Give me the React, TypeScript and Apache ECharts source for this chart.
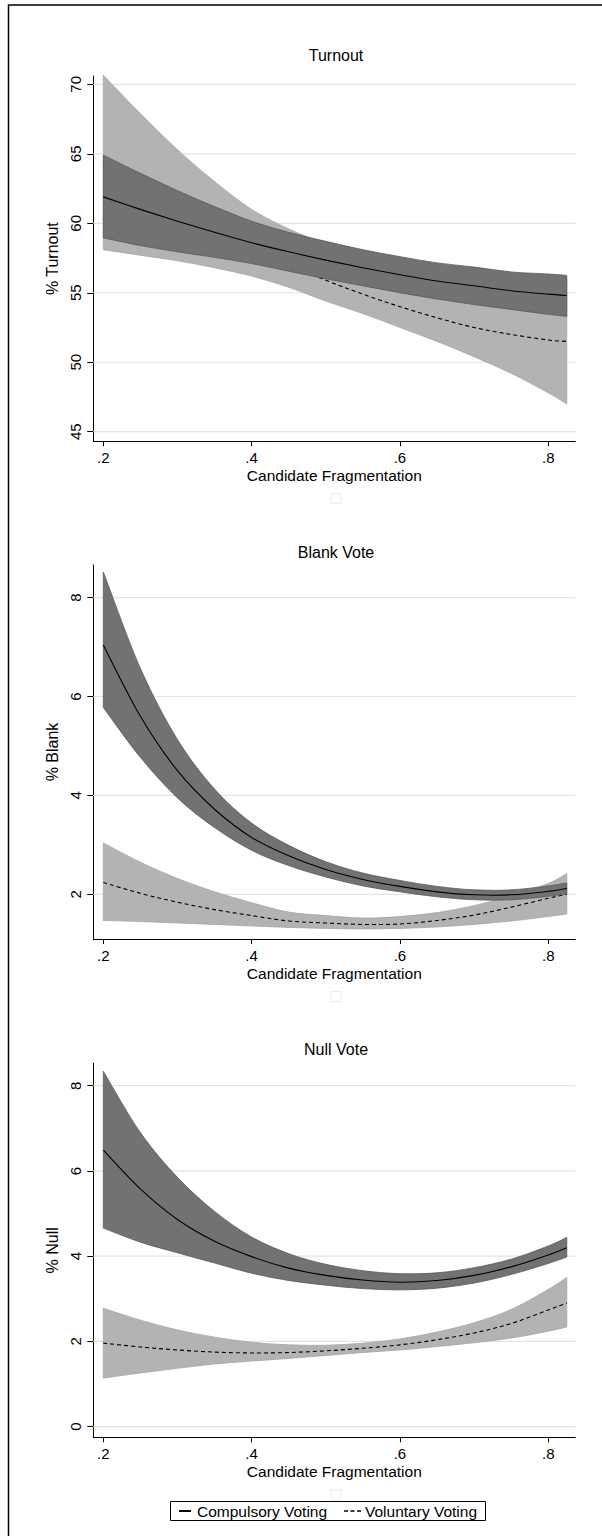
import React, { useEffect, useRef } from "react";
import * as echarts from "echarts";

// ---------- data ----------
const fragX = [0.2, 0.25, 0.3, 0.35, 0.4, 0.45, 0.5, 0.55, 0.6, 0.65, 0.7, 0.75, 0.8, 0.825];

const xTicks = [0.2, 0.4, 0.6, 0.8];
const xTickLabels = [".2", ".4", ".6", ".8"];

// Turnout
const turnoutCompMean = [61.9, 61.0, 60.15, 59.35, 58.6, 57.95, 57.35, 56.8, 56.3, 55.85, 55.5, 55.15, 54.9, 54.8];
const turnoutCompLow = [58.95, 58.4, 57.95, 57.55, 57.1, 56.55, 56.0, 55.5, 55.0, 54.55, 54.15, 53.8, 53.45, 53.3];
const turnoutCompHigh = [64.9, 63.6, 62.35, 61.2, 60.15, 59.35, 58.7, 58.1, 57.6, 57.15, 56.85, 56.5, 56.35, 56.25];
const turnoutVolMean = [64.4, 62.7, 61.1, 59.6, 58.2, 57.0, 55.9, 54.9, 54.0, 53.2, 52.5, 52.0, 51.6, 51.5];
const turnoutVolLow = [58.1, 57.7, 57.3, 56.8, 56.2, 55.4, 54.4, 53.5, 52.5, 51.5, 50.4, 49.2, 47.8, 47.0];
const turnoutVolHigh = [70.65, 67.9, 65.3, 63.0, 61.0, 59.6, 58.5, 57.5, 56.8, 56.2, 55.8, 55.7, 55.8, 56.0];
const turnoutTicks = [45, 50, 55, 60, 65, 70];

// Blank vote
const blankCompMean = [7.04, 5.6, 4.5, 3.72, 3.15, 2.78, 2.5, 2.3, 2.16, 2.05, 1.99, 1.99, 2.06, 2.12];
const blankCompLow = [5.78, 4.77, 3.95, 3.35, 2.89, 2.58, 2.35, 2.17, 2.05, 1.95, 1.89, 1.89, 1.96, 2.01];
const blankCompHigh = [8.52, 6.57, 5.13, 4.13, 3.44, 2.99, 2.66, 2.43, 2.28, 2.16, 2.09, 2.09, 2.17, 2.23];
const blankVolMean = [2.24, 2.02, 1.84, 1.69, 1.57, 1.46, 1.42, 1.39, 1.4, 1.47, 1.58, 1.74, 1.92, 2.0];
const blankVolLow = [1.47, 1.45, 1.42, 1.39, 1.36, 1.33, 1.31, 1.3, 1.31, 1.34, 1.39, 1.46, 1.55, 1.6];
const blankVolHigh = [3.04, 2.65, 2.32, 2.05, 1.83, 1.64, 1.57, 1.52, 1.55, 1.63, 1.77, 1.97, 2.22, 2.42];
const blankTicks = [2, 4, 6, 8];

// Null vote
const nullCompMean = [6.49, 5.58, 4.86, 4.35, 3.99, 3.72, 3.55, 3.44, 3.39, 3.43, 3.55, 3.75, 4.03, 4.2];
const nullCompLow = [4.66, 4.33, 4.08, 3.84, 3.6, 3.43, 3.32, 3.24, 3.21, 3.25, 3.37, 3.57, 3.83, 3.98];
const nullCompHigh = [8.34, 6.9, 5.85, 5.05, 4.45, 4.06, 3.81, 3.66, 3.59, 3.61, 3.73, 3.93, 4.24, 4.44];
const nullVolMean = [1.96, 1.87, 1.8, 1.75, 1.73, 1.74, 1.78, 1.84, 1.92, 2.04, 2.2, 2.42, 2.74, 2.9];
const nullVolLow = [1.14, 1.26, 1.37, 1.47, 1.54, 1.6, 1.67, 1.74, 1.8, 1.88, 1.97, 2.08, 2.24, 2.34];
const nullVolHigh = [2.78, 2.5, 2.27, 2.1, 1.98, 1.92, 1.91, 1.96, 2.06, 2.22, 2.44, 2.75, 3.22, 3.5];
const nullTicks = [0, 2, 4, 6, 8];

const panelTitles = ["Turnout", "Blank Vote", "Null Vote"];
const yNames = ["% Turnout", "% Blank", "% Null"];
const xName = "Candidate Fragmentation";
const legendLabels = ["Compulsory Voting", "Voluntary Voting"];

// ---------- layout / style ----------
const FONT = "'Liberation Sans', Arial, Helvetica, sans-serif";
const X_MIN = 0.1865;
const X_MAX = 0.8365;
const PLOT_LEFT = 93.3;
const PLOT_WIDTH = 482;
const CENTER_X = 336;

const panels = [
  {
    top: 76, height: 365.3, yMin: 44.31, yMax: 70.6, ticks: turnoutTicks, titleY: 55,
    comp: [turnoutCompMean, turnoutCompLow, turnoutCompHigh],
    vol: [turnoutVolMean, turnoutVolLow, turnoutVolHigh],
  },
  {
    top: 565, height: 374, yMin: 1.096, yMax: 8.66, ticks: blankTicks, titleY: 552,
    comp: [blankCompMean, blankCompLow, blankCompHigh],
    vol: [blankVolMean, blankVolLow, blankVolHigh],
  },
  {
    top: 1063.3, height: 374, yMin: -0.249, yMax: 8.526, ticks: nullTicks, titleY: 1049,
    comp: [nullCompMean, nullCompLow, nullCompHigh],
    vol: [nullVolMean, nullVolLow, nullVolHigh],
  },
];

// Catmull-Rom spline through pixel points -> cubic bezier commands (rendering only)
function curveCmds(p: number[][]): string {
  let d = "";
  const n = p.length;
  for (let i = 0; i < n - 1; i++) {
    const p0 = p[i - 1] || p[i];
    const p1 = p[i];
    const p2 = p[i + 1];
    const p3 = p[i + 2] || p[i + 1];
    const t = 6;
    const c1x = p1[0] + (p2[0] - p0[0]) / t;
    const c1y = p1[1] + (p2[1] - p0[1]) / t;
    const c2x = p2[0] - (p3[0] - p1[0]) / t;
    const c2y = p2[1] - (p3[1] - p1[1]) / t;
    d += ` C${c1x.toFixed(2)},${c1y.toFixed(2)} ${c2x.toFixed(2)},${c2y.toFixed(2)} ${p2[0].toFixed(2)},${p2[1].toFixed(2)}`;
  }
  return d;
}
const moveTo = (p: number[]) => `M${p[0].toFixed(2)},${p[1].toFixed(2)}`;

function bandSeries(i: number, lo: number[], hi: number[], fill: string, stroke: string, z: number) {
  return {
    type: "custom",
    xAxisIndex: i,
    yAxisIndex: i,
    silent: true,
    z,
    clip: false,
    data: [[fragX[0], lo[0]]],
    renderItem: (_params: any, api: any) => {
      const up = fragX.map((x, k) => api.coord([x, hi[k]]));
      const dn = fragX.map((x, k) => api.coord([x, lo[k]])).reverse();
      const d =
        moveTo(up[0]) + curveCmds(up) +
        ` L${dn[0][0].toFixed(2)},${dn[0][1].toFixed(2)}` + curveCmds(dn) + " Z";
      return { type: "path", shape: { pathData: d }, style: { fill, stroke, lineWidth: 0.8 } };
    },
  };
}

function lineSeries(i: number, name: string, ys: number[], dashed: boolean, z: number) {
  return {
    type: "custom",
    name,
    xAxisIndex: i,
    yAxisIndex: i,
    silent: true,
    z,
    clip: false,
    data: [[fragX[0], ys[0]]],
    renderItem: (_params: any, api: any) => {
      const p = fragX.map((x, k) => api.coord([x, ys[k]]));
      return {
        type: "path",
        shape: { pathData: moveTo(p[0]) + curveCmds(p) },
        style: { fill: "none", stroke: "#000", lineWidth: 1.1, lineDash: dashed ? [4, 3] : null },
      };
    },
  };
}

function buildOption() {
  const grid: any[] = [];
  const xAxis: any[] = [];
  const yAxis: any[] = [];
  const series: any[] = [];
  const graphic: any[] = [];

  panels.forEach((p, i) => {
    grid.push({ left: PLOT_LEFT, width: PLOT_WIDTH, top: p.top, height: p.height, containLabel: false });
    xAxis.push({
      type: "value", gridIndex: i, min: X_MIN, max: X_MAX,
      axisLine: { show: true, onZero: false, lineStyle: { color: "#000", width: 1 } },
      axisTick: { show: true, length: 5, customValues: xTicks, lineStyle: { color: "#000", width: 1 } },
      axisLabel: {
        show: true, customValues: xTicks, margin: 9, fontSize: 15, color: "#000", fontFamily: FONT,
        formatter: (v: number) => {
          const idx = xTicks.findIndex((t) => Math.abs(t - v) < 1e-9);
          return idx >= 0 ? xTickLabels[idx] : "";
        },
      },
      splitLine: { show: false },
      name: xName, nameLocation: "middle", nameGap: 26,
      nameTextStyle: { fontSize: 15.5, color: "#000", fontFamily: FONT },
    });
    yAxis.push({
      type: "value", gridIndex: i, min: p.yMin, max: p.yMax,
      axisLine: { show: true, onZero: false, lineStyle: { color: "#000", width: 1 } },
      axisTick: { show: true, length: 6, customValues: p.ticks, lineStyle: { color: "#000", width: 1 } },
      axisLabel: {
        show: true, customValues: p.ticks, rotate: 90, margin: 10, fontSize: 15, color: "#000", fontFamily: FONT,
        formatter: (v: number) => String(Math.round(v)),
      },
      splitLine: { show: false },
      name: yNames[i], nameLocation: "middle", nameGap: 28,
      nameTextStyle: { fontSize: 16, color: "#000", fontFamily: FONT },
    });

    // grid lines
    p.ticks.forEach((t) => {
      series.push({
        type: "line", xAxisIndex: i, yAxisIndex: i, silent: true, symbol: "none", z: 1,
        data: [[X_MIN, t], [X_MAX, t]],
        lineStyle: { color: "#e3e3e3", width: 1.2 },
      });
    });

    const [vMean, vLow, vHigh] = p.vol;
    const [cMean, cLow, cHigh] = p.comp;

    // drawing order: voluntary band, voluntary line, compulsory band, compulsory line
    series.push(bandSeries(i, vLow, vHigh, "#b3b3b3", "#a4a4a4", 2));
    series.push(lineSeries(i, legendLabels[1], vMean, true, 3));
    series.push(bandSeries(i, cLow, cHigh, "#727272", "#585858", 4));
    series.push(lineSeries(i, legendLabels[0], cMean, false, 5));

    graphic.push({
      type: "text", x: CENTER_X, y: p.titleY, silent: true,
      style: { text: panelTitles[i], fontSize: 16, fontFamily: FONT, fill: "#000", align: "center", verticalAlign: "middle" },
    });
    graphic.push({
      type: "rect", silent: true,
      shape: { x: 331, y: p.top + p.height + 52.5, width: 10, height: 10 },
      style: { fill: "none", stroke: "#ececec", lineWidth: 1 },
    });
  });

  graphic.push({
    type: "rect", silent: true, z: 100,
    shape: { x: 8.5, y: 5, width: 700, height: 1600 },
    style: { fill: "none", stroke: "#000", lineWidth: 1.5 },
  });

  const ly = 1511;
  graphic.push({
    type: "group", silent: true,
    children: [
      { type: "rect", shape: { x: 170.5, y: 1501.5, width: 315, height: 19 }, style: { fill: "#fff", stroke: "#000", lineWidth: 1 } },
      { type: "line", shape: { x1: 179, y1: ly, x2: 191, y2: ly }, style: { stroke: "#000", lineWidth: 2 } },
      { type: "text", x: 197, y: ly + 0.5, style: { text: legendLabels[0], fontSize: 15.5, fontFamily: FONT, fill: "#000", align: "left", verticalAlign: "middle" } },
      { type: "line", shape: { x1: 344, y1: ly, x2: 361, y2: ly }, style: { stroke: "#000", lineWidth: 1.6, lineDash: [4, 2.5] } },
      { type: "text", x: 365, y: ly + 0.5, style: { text: legendLabels[1], fontSize: 15.5, fontFamily: FONT, fill: "#000", align: "left", verticalAlign: "middle" } },
    ],
  });

  return {
    animation: false,
    backgroundColor: "#fff",
    textStyle: { fontFamily: FONT },
    grid,
    xAxis,
    yAxis,
    series,
    graphic,
  };
}

export default function App() {
  const ref = useRef<HTMLDivElement>(null);
  useEffect(() => {
    if (!ref.current) return;
    const chart = echarts.init(ref.current, null, { renderer: "svg" });
    chart.setOption(buildOption() as any);
    return () => chart.dispose();
  }, []);
  return (
    <div
      ref={ref}
      style={{ position: "absolute", left: 0, top: 0, width: 602, height: 1536, background: "#fff" }}
    />
  );
}
